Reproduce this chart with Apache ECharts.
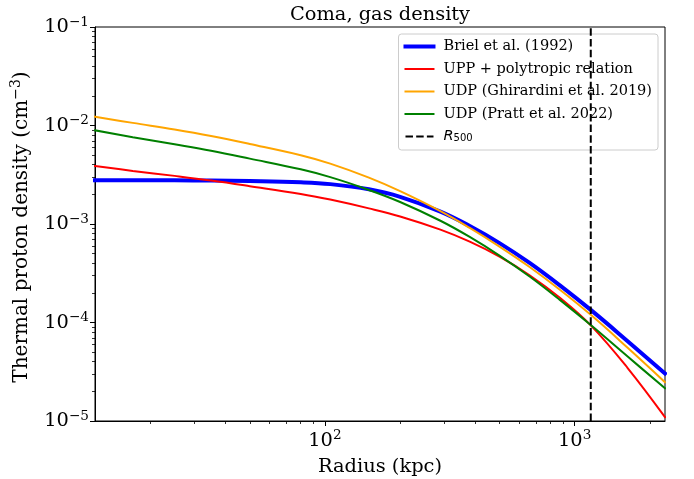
<!DOCTYPE html>
<html>
<head>
<meta charset="utf-8">
<script src="https://cdn.jsdelivr.net/npm/echarts@6/dist/echarts.min.js"></script>
<style>html,body{margin:0;padding:0;background:#fff}#c{width:694px;height:479px}</style>
</head>
<body>
<div id="c"></div>
<script>
// ---- data ----
const radius = [12, 17, 25, 35, 50, 80, 105, 150, 200, 290, 380, 500, 660, 870, 1160, 1630, 2300];
const briel = [2.778e-3, 2.778e-3, 2.773e-3, 2.759e-3, 2.728e-3, 2.649e-3, 2.54e-3, 2.249e-3, 1.888e-3, 1.336e-3, 9.54e-4, 6.4e-4, 4.026e-4, 2.396e-4, 1.342e-4, 6.46e-5, 3.04e-5];
const uppPoly = [3.88e-3, 3.46e-3, 3.08e-3, 2.762e-3, 2.423e-3, 2.021e-3, 1.769e-3, 1.44e-3, 1.192e-3, 8.76e-4, 6.61e-4, 4.66e-4, 3.02e-4, 1.79e-4, 9.35e-5, 3.45e-5, 1.093e-5];
const udpGhirardini = [1.229e-2, 1.063e-2, 9.11e-3, 7.82e-3, 6.49e-3, 4.99e-3, 4.1e-3, 2.955e-3, 2.155e-3, 1.351e-3, 9.12e-4, 5.9e-4, 3.66e-4, 2.165e-4, 1.196e-4, 5.54e-5, 2.48e-5];
const udpPratt = [8.94e-3, 7.61e-3, 6.44e-3, 5.535e-3, 4.61e-3, 3.59e-3, 2.99e-3, 2.217e-3, 1.674e-3, 1.079e-3, 7.39e-4, 4.78e-4, 2.93e-4, 1.706e-4, 9.41e-5, 4.51e-5, 2.15e-5];
const r500 = 1160;
const seriesNames = ['Briel et al. (1992)', 'UPP + polytropic relation', 'UDP (Ghirardini et al. 2019)', 'UDP (Pratt et al. 2022)', 'R500'];
const xRange = [12, 2300];
const yRange = [1e-5, 1e-1];
const xMajorTicks = [100, 1000];
const xMinorTicks = [20, 30, 40, 50, 60, 70, 80, 90, 200, 300, 400, 500, 600, 700, 800, 900, 2000];
const yMajorTicks = [1e-5, 1e-4, 1e-3, 1e-2, 1e-1];
const yMinorTicks = [2e-5, 3e-5, 4e-5, 5e-5, 6e-5, 7e-5, 8e-5, 9e-5,
  2e-4, 3e-4, 4e-4, 5e-4, 6e-4, 7e-4, 8e-4, 9e-4,
  2e-3, 3e-3, 4e-3, 5e-3, 6e-3, 7e-3, 8e-3, 9e-3,
  2e-2, 3e-2, 4e-2, 5e-2, 6e-2, 7e-2, 8e-2, 9e-2];

const serif = 'DejaVu Serif';
const bigFont = 19.4;
const pairs = arr => radius.map((r, i) => [r, arr[i]]);
const supLabel = v => {
  const e = Math.round(Math.log10(v));
  return '{b|10}{s|' + (e < 0 ? '\u2212' + (-e) : e) + '}';
};
const tickRich = {
  b: {fontFamily: serif, fontSize: bigFont, lineHeight: 24, color: '#000'},
  s: {fontFamily: serif, fontSize: 13.6, lineHeight: 14, verticalAlign: 'top', color: '#000'}
};

const chart = echarts.init(document.getElementById('c'), null, {renderer: 'canvas', width: 694, height: 479});

const lineSeries = (name, arr, color, width, z) => ({
  type: 'line', name: name, data: pairs(arr), xAxisIndex: 0, yAxisIndex: 0,
  symbol: 'none', showSymbol: false, smooth: 0.4,
  lineStyle: {color: color, width: width, cap: 'square'}, itemStyle: {color: color},
  z: z, silent: true, animation: false
});

const legendItem = (name, width) => ({
  name: name,
  lineStyle: {width: width},
  itemStyle: {color: 'rgba(0,0,0,0)', opacity: 0, borderWidth: 0}
});

chart.setOption({
  animation: false,
  backgroundColor: '#fff',
  title: {
    text: 'Coma, gas density', left: 380, top: 5, textAlign: 'center', padding: 0,
    textStyle: {fontFamily: serif, fontSize: bigFont, fontWeight: 'normal', color: '#000'}
  },
  grid: {left: 95, right: 29, top: 27, bottom: 58, show: true, borderColor: '#000', borderWidth: 1,
    backgroundColor: 'transparent', containLabel: false, outerBoundsMode: 'none'},
  legend: {
    orient: 'vertical', right: 36, top: 34, padding: [5, 6, 6, 5],
    itemWidth: 28, itemHeight: 14, itemGap: 7.5,
    backgroundColor: 'rgba(255,255,255,0.8)', borderColor: '#cccccc', borderWidth: 1, borderRadius: 3,
    selectedMode: false,
    itemStyle: {color: 'rgba(0,0,0,0)', opacity: 0, borderWidth: 0},
    formatter: name => name === 'R500' ? '{i|R}{sub|500}' : name,
    textStyle: {
      fontFamily: serif, fontSize: 14.5, color: '#000', lineHeight: 14, padding: [0, 0, 0, 5],
      rich: {
        i: {fontFamily: 'DejaVu Sans', fontStyle: 'italic', fontSize: 14.5, lineHeight: 14, color: '#000'},
        sub: {fontFamily: 'DejaVu Sans', fontSize: 10, lineHeight: 6, verticalAlign: 'bottom', color: '#000'}
      }
    },
    data: [
      legendItem(seriesNames[0], 4),
      legendItem(seriesNames[1], 2),
      legendItem(seriesNames[2], 2),
      legendItem(seriesNames[3], 2),
      legendItem(seriesNames[4], 2)
    ]
  },
  xAxis: [
    {
      type: 'log', logBase: 10, min: xRange[0], max: xRange[1], gridIndex: 0, position: 'bottom',
      name: 'Radius (kpc)', nameLocation: 'middle', nameGap: 29,
      nameTextStyle: {fontFamily: serif, fontSize: bigFont, color: '#000', lineHeight: 24},
      axisLine: {show: true, lineStyle: {color: '#000', width: 1}},
      axisTick: {show: true, customValues: xMajorTicks, length: 5, inside: false, lineStyle: {color: '#000', width: 1}},
      axisLabel: {show: true, customValues: xMajorTicks, margin: 7.5, formatter: supLabel, rich: tickRich},
      splitLine: {show: false}, minorTick: {show: false}, minorSplitLine: {show: false}
    },
    {
      type: 'log', logBase: 10, min: xRange[0], max: xRange[1], gridIndex: 0, position: 'bottom',
      axisLine: {show: false},
      axisTick: {show: true, customValues: xMinorTicks, length: 3, inside: false, lineStyle: {color: '#000', width: 0.8}},
      axisLabel: {show: false}, splitLine: {show: false}
    }
  ],
  yAxis: [
    {
      type: 'log', logBase: 10, min: yRange[0], max: yRange[1], gridIndex: 0, position: 'left',
      name: 'Thermal proton density (cm{s|\u22123})', nameLocation: 'middle', nameGap: 57,
      nameTextStyle: {fontFamily: serif, fontSize: 20, color: '#000', lineHeight: 24, padding: [0, 6, 0, 0],
        rich: {s: {fontFamily: serif, fontSize: 14, lineHeight: 14, verticalAlign: 'top', color: '#000'}}},
      axisLine: {show: true, lineStyle: {color: '#000', width: 1}},
      axisTick: {show: true, customValues: yMajorTicks, length: 5, inside: false, lineStyle: {color: '#000', width: 1}},
      axisLabel: {show: true, customValues: yMajorTicks, margin: 6, formatter: supLabel, rich: tickRich},
      splitLine: {show: false}, minorTick: {show: false}, minorSplitLine: {show: false}
    },
    {
      type: 'log', logBase: 10, min: yRange[0], max: yRange[1], gridIndex: 0, position: 'left',
      axisLine: {show: false},
      axisTick: {show: true, customValues: yMinorTicks, length: 3, inside: false, lineStyle: {color: '#000', width: 0.8}},
      axisLabel: {show: false}, splitLine: {show: false}
    }
  ],
  series: [
    lineSeries(seriesNames[0], briel, '#0000ff', 4, 2),
    lineSeries(seriesNames[1], uppPoly, '#ff0000', 2, 3),
    lineSeries(seriesNames[2], udpGhirardini, '#ffa500', 2, 4),
    lineSeries(seriesNames[3], udpPratt, '#008000', 2, 5),
    {
      type: 'line', name: seriesNames[4], xAxisIndex: 0, yAxisIndex: 0,
      data: [[r500, yRange[0]], [r500, yRange[1]]],
      symbol: 'none', showSymbol: false,
      lineStyle: {color: '#000', width: 2, type: [7.5, 3.2]}, itemStyle: {color: '#000'},
      z: 6, silent: true, animation: false
    }
  ]
});
</script>
</body>
</html>
